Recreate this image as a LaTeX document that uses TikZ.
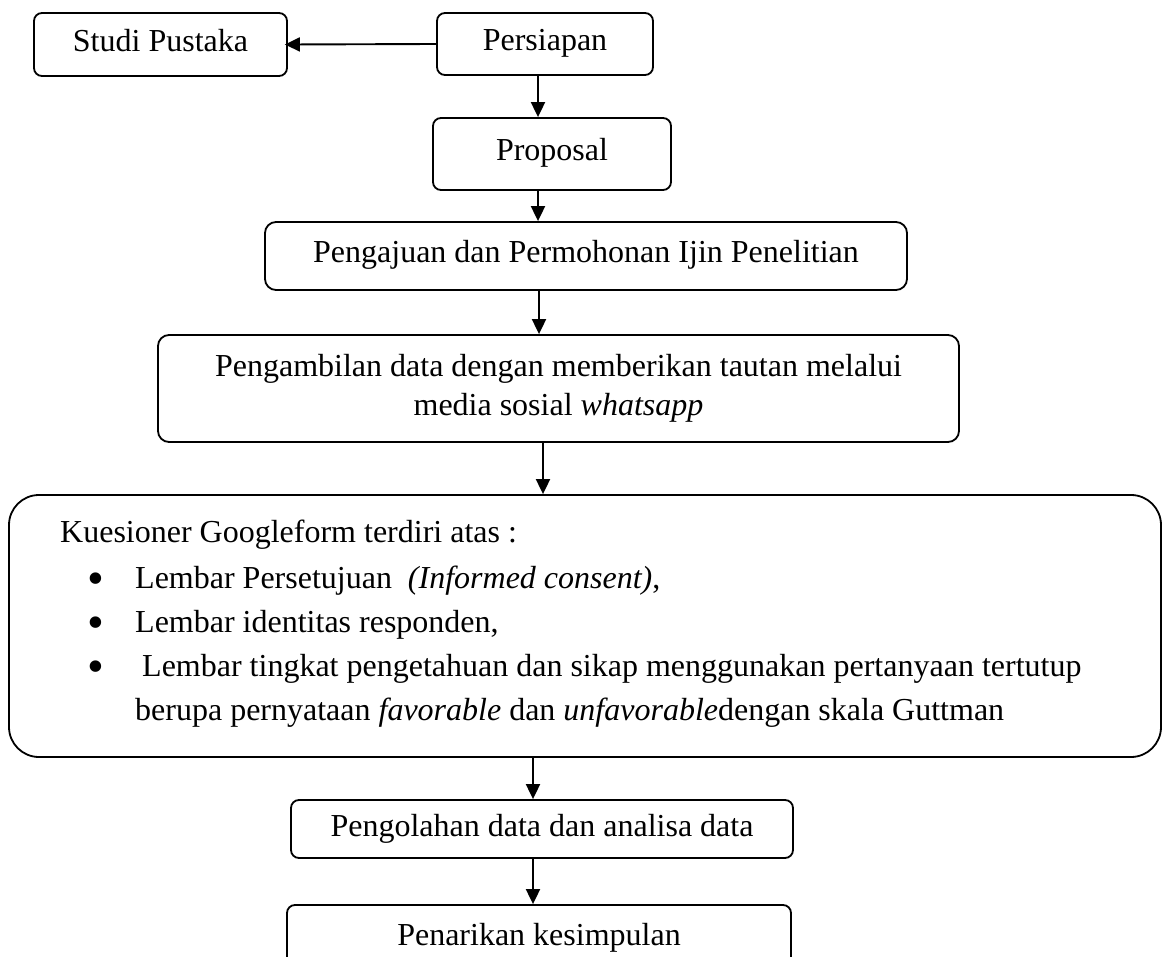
\documentclass[tikz,border=0pt]{standalone}
\usepackage{fontspec}
\setmainfont{Liberation Serif}
\usetikzlibrary{arrows.meta}
\begin{document}
\begin{tikzpicture}[x=1pt,y=-1pt,
  box/.style={draw, line width=1.8pt, rounded corners=8pt, inner sep=0pt,
    font=\fontsize{32}{39}\selectfont, text height=21pt, text depth=7pt, align=center},
  box2/.style={draw, line width=1.8pt, rounded corners=11pt, inner sep=0pt,
    font=\fontsize{32}{39}\selectfont, align=center},
  arr/.style={line width=1.9pt, -{Triangle[length=15pt,width=14pt]}},
  txt/.style={inner sep=0pt, anchor=base west, font=\fontsize{32}{39}\selectfont},
  bul/.style={inner sep=0pt, anchor=base west, font=\fontsize{48}{48}\selectfont}]
\fill[white] (0,0) rectangle (1168,957);
\clip (0,0) rectangle (1168,957);
% boxes
\node[box, minimum width=253pt, minimum height=63pt] (studi) at (160.5,44.5) {Studi Pustaka};
\node[box, minimum width=216pt, minimum height=62pt] (persiapan) at (545,44) {Persiapan};
\node[box, minimum width=238pt, minimum height=72pt] (proposal) at (552,154) {Proposal};
\node[box, rounded corners=11pt, minimum width=642pt, minimum height=68pt] (pengajuan) at (586,256) {Pengajuan dan Permohonan Ijin Penelitian};
\node[box2, minimum width=801pt, minimum height=107pt] (pengambilan) at (558.5,388.5) {Pengambilan data dengan memberikan tautan melalui\\media sosial \textit{whatsapp}};
\node[draw, line width=1.8pt, rounded corners=30pt, minimum width=1152pt, minimum height=262pt, inner sep=0pt] (kues) at (585,626) {};
\node[box, minimum width=502pt, minimum height=58pt] (olah) at (542,829) {Pengolahan data dan analisa data};
\node[box, minimum width=504pt, minimum height=66pt] (tarik) at (539,938) {Penarikan kesimpulan};
% questionnaire text
\node[txt] (k0) at (60,543) {Kuesioner Googleform terdiri atas :};
\node[bul] (b1) at (87,594) {•};
\node[txt] (k1) at (135,588) {Lembar Persetujuan\ \ \textit{(Informed consent)},};
\node[bul] (b2) at (87,638) {•};
\node[txt] (k2) at (135,632) {Lembar identitas responden,};
\node[bul] (b3) at (87,682) {•};
\node[txt] (k3) at (142,676) {Lembar tingkat pengetahuan dan sikap menggunakan pertanyaan tertutup};
\node[txt] (k4) at (135,720) {berupa pernyataan \textit{favorable} dan \textit{unfavorable}dengan skala Guttman};
% arrow x positions
\coordinate (a1) at (538,0);
\coordinate (a2) at (539,0);
\coordinate (a3) at (543,0);
\coordinate (a4) at (533,0);
% connectors
\draw[arr, shorten >=-3pt] (persiapan.west) -- (studi.east);
\draw[arr] (persiapan.south -| a1) -- (proposal.north -| a1);
\draw[arr] (proposal.south -| a1) -- (pengajuan.north -| a1);
\draw[arr] (pengajuan.south -| a2) -- (pengambilan.north -| a2);
\draw[arr] (pengambilan.south -| a3) -- (kues.north -| a3);
\draw[arr] (kues.south -| a4) -- (olah.north -| a4);
\draw[arr] (olah.south -| a4) -- (tarik.north -| a4);
\end{tikzpicture}
\end{document}
